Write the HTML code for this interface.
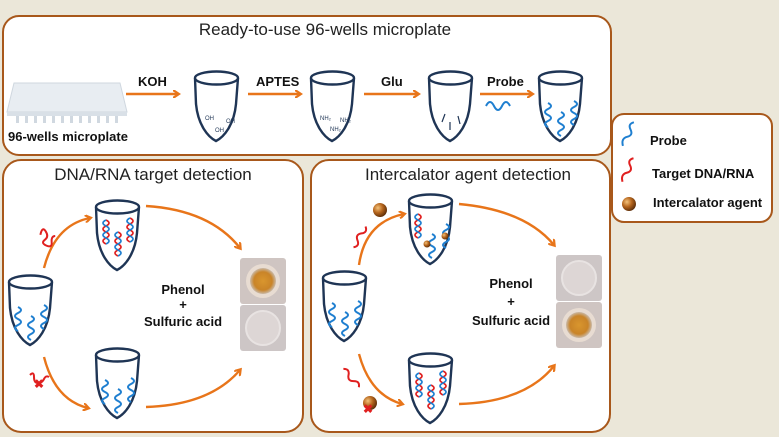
<!DOCTYPE html>
<html><head><meta charset="utf-8"><style>
html,body{margin:0;padding:0;background:#ebe7d9;}
svg{display:block}
text{font-family:"Liberation Sans",sans-serif;}
.b{font-weight:bold;font-size:13px;fill:#111}
.t{font-size:17px;fill:#222}
</style></head><body>
<svg width="779" height="437" viewBox="0 0 779 437" xmlns="http://www.w3.org/2000/svg">
<defs>
<marker id="ah" markerWidth="8" markerHeight="8" refX="5" refY="4" orient="auto" markerUnits="userSpaceOnUse">
<path d="M0 0 L6 4 L0 8" fill="none" stroke="#e8751a" stroke-width="2.2"/>
</marker>
<g id="tube">
<path d="M1 7 L2 33 C4 54 14 66 22 70 C30 66 40 54 42 33 L44 7" fill="#fff" stroke="#1f3555" stroke-width="2.4"/>
<ellipse cx="22.5" cy="7" rx="21.5" ry="6.5" fill="#fff" stroke="#1f3555" stroke-width="2.4"/>
</g>
<path id="wave" d="M0 0 q6 3 0 6 q-6 3 0 6 q6 3 0 6 q-6 3 0 6" fill="none" stroke="#1f7fd0" stroke-width="2"/>
<g id="probes">
<use href="#wave" x="10" y="32"/><use href="#wave" x="36" y="30"/><use href="#wave" x="23" y="41"/>
</g>
<g id="helix">
<path d="M0 0 q6 3 0 6 q-6 3 0 6 q6 3 0 6 q-6 3 0 6" fill="none" stroke="#e02020" stroke-width="1.7"/>
<path d="M0 0 q-6 3 0 6 q6 3 0 6 q-6 3 0 6 q6 3 0 6" fill="none" stroke="#1f7fd0" stroke-width="1.7"/>
</g>
<g id="helices"><use href="#helix" x="11" y="20"/><use href="#helix" x="35" y="18"/><use href="#helix" x="23" y="32"/></g>
<radialGradient id="ball" cx="0.35" cy="0.35" r="0.7"><stop offset="0" stop-color="#f4c27a"/><stop offset="0.5" stop-color="#b5651d"/><stop offset="1" stop-color="#5a2c08"/></radialGradient>
<radialGradient id="orange" cx="0.5" cy="0.5" r="0.5"><stop offset="0" stop-color="#d9962e"/><stop offset="0.7" stop-color="#c98428"/><stop offset="1" stop-color="#c9b9a8"/></radialGradient>
<g id="wellO"><rect width="46" height="46" rx="3" fill="#cfc5c2"/><circle cx="23" cy="23" r="17" fill="#e8dcd2"/><circle cx="23" cy="23" r="13" fill="url(#orange)"/></g>
<g id="wellC"><rect width="46" height="46" rx="3" fill="#cdc6c6"/><circle cx="23" cy="23" r="17" fill="#ddd6d5" stroke="#e8e3e2" stroke-width="2"/></g>
</defs>

<!-- Top panel -->
<rect x="3" y="16" width="608" height="139" rx="16" fill="#fff" stroke="#a8581b" stroke-width="2"/>
<text x="325" y="35" text-anchor="middle" class="t">Ready-to-use 96-wells microplate</text>
<path d="M14 83 L120 83 L127 112 L7 112 Z" fill="#e8edf2" stroke="#cfd7df"/>
<rect x="7" y="112" width="120" height="4" fill="#d9e0e7"/>
<g fill="#d0d8e0">
<rect x="16" y="116" width="3" height="7"/><rect x="25" y="116" width="3" height="7"/><rect x="34" y="116" width="3" height="7"/><rect x="43" y="116" width="3" height="7"/><rect x="52" y="116" width="3" height="7"/><rect x="61" y="116" width="3" height="7"/><rect x="70" y="116" width="3" height="7"/><rect x="79" y="116" width="3" height="7"/><rect x="88" y="116" width="3" height="7"/><rect x="97" y="116" width="3" height="7"/><rect x="106" y="116" width="3" height="7"/><rect x="115" y="116" width="3" height="7"/>
</g>
<text x="8" y="141" class="b">96-wells microplate</text>
<g stroke="#e8751a" stroke-width="2.4" marker-end="url(#ah)">
<line x1="126" y1="94" x2="178" y2="94"/><line x1="248" y1="94" x2="300" y2="94"/><line x1="364" y1="94" x2="418" y2="94"/><line x1="480" y1="94" x2="532" y2="94"/>
</g>
<text x="138" y="86" class="b">KOH</text><text x="256" y="86" class="b">APTES</text><text x="381" y="86" class="b">Glu</text><text x="487" y="86" class="b">Probe</text>
<path d="M486 106 q4 -8 8 0 q4 8 8 0 q4 -8 8 0" fill="none" stroke="#1f7fd0" stroke-width="2"/>
<use href="#tube" x="194" y="71"/><use href="#tube" x="310" y="71"/><use href="#tube" x="428" y="71"/><use href="#tube" x="538" y="71"/>
<g font-size="6" fill="#1f3555" font-family="Liberation Sans"><text x="205" y="120">OH</text><text x="226" y="123">OH</text><text x="215" y="132">OH</text>
<text x="320" y="120">NH₂</text><text x="340" y="122">NH₂</text><text x="330" y="131">NH₂</text></g>
<g stroke="#1f3555" stroke-width="1.2" fill="none"><path d="M442 122 l3 -8 M450 130 l0 -8 M460 124 l-2 -8"/></g>
<use href="#probes" x="538" y="71"/>

<!-- Bottom left -->
<rect x="3" y="160" width="300" height="272" rx="18" fill="#fff" stroke="#a8581b" stroke-width="2"/>
<text x="153" y="180" text-anchor="middle" class="t">DNA/RNA target detection</text>
<use href="#tube" x="95" y="200"/><use href="#helices" x="95" y="200"/>
<use href="#tube" x="8" y="275"/><use href="#probes" x="8" y="275"/>
<use href="#tube" x="95" y="348"/><use href="#probes" x="95" y="348"/>
<g fill="none" stroke="#e8751a" stroke-width="2.4" marker-end="url(#ah)">
<path d="M44 268 Q55 225 90 218"/><path d="M146 206 Q210 210 240 248"/>
<path d="M44 357 Q55 400 88 408"/><path d="M146 407 Q210 405 240 370"/>
</g>
<path d="M42 233 q4 -8 6 -2 q2 6 -3 8 q-5 2 0 6 q5 4 6 -2 q1 -6 5 -5" fill="none" stroke="#e02020" stroke-width="2" transform="rotate(-15 48 240)"/>
<path d="M30 375 q4 -4 4 2 q0 6 4 6 q4 0 6 -4 q2 -4 5 -2" fill="none" stroke="#e02020" stroke-width="2"/>
<text x="34" y="388" fill="#e02020" font-weight="bold" font-size="12" font-family="Liberation Sans">✖</text>
<text x="183" y="294" text-anchor="middle" class="b">Phenol</text>
<text x="183" y="309" text-anchor="middle" class="b">+</text>
<text x="183" y="326" text-anchor="middle" class="b">Sulfuric acid</text>
<use href="#wellO" x="240" y="258"/><use href="#wellC" x="240" y="305"/>

<!-- Bottom right -->
<rect x="311" y="160" width="299" height="272" rx="18" fill="#fff" stroke="#a8581b" stroke-width="2"/>
<text x="468" y="180" text-anchor="middle" class="t">Intercalator agent detection</text>
<use href="#tube" x="408" y="194"/>
<use href="#helix" x="418" y="214"/><use href="#wave" x="432" y="234"/><use href="#wave" x="446" y="224"/>
<circle cx="427" cy="244" r="3.5" fill="url(#ball)"/><circle cx="445" cy="236" r="3.5" fill="url(#ball)"/>
<use href="#tube" x="322" y="271"/><use href="#probes" x="322" y="271"/>
<use href="#tube" x="408" y="353"/><use href="#helices" x="408" y="353"/>
<g fill="none" stroke="#e8751a" stroke-width="2.4" marker-end="url(#ah)">
<path d="M359 265 Q365 222 404 214"/><path d="M459 204 Q525 210 554 245"/>
<path d="M359 354 Q370 395 402 404"/><path d="M459 404 Q525 402 554 366"/>
</g>
<circle cx="380" cy="210" r="7" fill="url(#ball)"/>
<path d="M360 225 q5 4 0 8 q-5 4 0 8 q5 4 0 8" fill="none" stroke="#e02020" stroke-width="2" transform="rotate(30 360 236)"/>
<path d="M350 365 q5 4 0 8 q-5 4 0 8 q5 4 0 8" fill="none" stroke="#e02020" stroke-width="2" transform="rotate(-40 352 376)"/>
<circle cx="370" cy="403" r="7" fill="url(#ball)"/>
<text x="363" y="413" fill="#e02020" font-weight="bold" font-size="12" font-family="Liberation Sans">✖</text>
<text x="511" y="288" text-anchor="middle" class="b">Phenol</text>
<text x="511" y="306" text-anchor="middle" class="b">+</text>
<text x="511" y="325" text-anchor="middle" class="b">Sulfuric acid</text>
<use href="#wellC" x="556" y="255"/><use href="#wellO" x="556" y="302"/>

<!-- Legend -->
<rect x="612" y="114" width="160" height="108" rx="12" fill="#fff" stroke="#a8581b" stroke-width="2"/>
<path d="M628 147 q-5 -6 0 -10 q5 -4 0 -8 q-5 -4 0 -8" fill="none" stroke="#1f7fd0" stroke-width="2" transform="rotate(25 628 135)"/>
<path d="M628 183 q-5 -6 0 -10 q5 -4 0 -8 q-5 -4 0 -8" fill="none" stroke="#e02020" stroke-width="2" transform="rotate(25 628 170)"/>
<circle cx="629" cy="204" r="7" fill="url(#ball)"/>
<text x="650" y="145" class="b">Probe</text>
<text x="652" y="178" class="b">Target DNA/RNA</text>
<text x="653" y="207" class="b">Intercalator agent</text>
</svg>
</body></html>
